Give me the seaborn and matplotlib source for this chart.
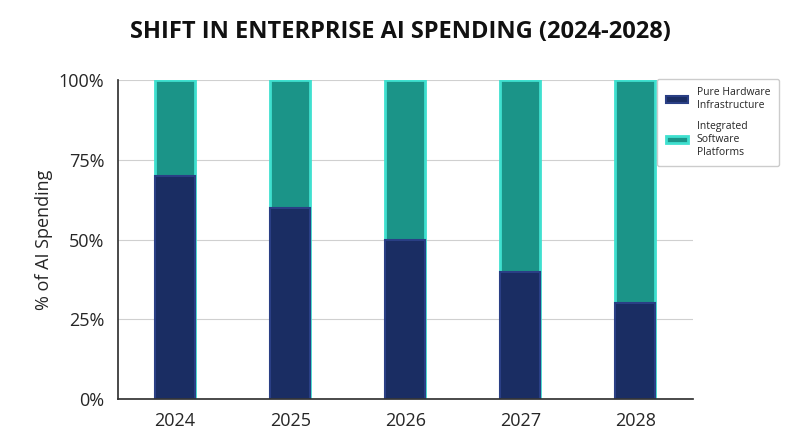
import matplotlib
matplotlib.use("Agg")
import matplotlib.pyplot as plt
import seaborn as sns
import pandas as pd

years = ["2024", "2025", "2026", "2027", "2028"]
hardware = [70, 60, 50, 40, 30]
software = [30, 40, 50, 60, 70]

sns.set_theme(style="white")
plt.rcParams['font.family'] = ['Open Sans', 'DejaVu Sans']

df = pd.DataFrame({"year": years, "hardware": hardware,
                   "total": [h + s for h, s in zip(hardware, software)]})

fig = plt.figure(figsize=(8, 4.47), dpi=100)
ax = fig.add_axes([0.147, 0.107, 0.719, 0.714])
ax.yaxis.grid(True, color="#d0d0d0", lw=0.8)
ax.set_axisbelow(True)

sns.barplot(data=df, x="year", y="total", color="#1b9488", width=0.35,
            edgecolor="#3fe0cf", linewidth=2, saturation=1, ax=ax,
            label="Integrated\nSoftware\nPlatforms")
sns.barplot(data=df, x="year", y="hardware", color="#1a2d63", width=0.35,
            edgecolor="#2a3f85", linewidth=1.5, saturation=1, ax=ax,
            label="Pure Hardware\nInfrastructure")

ax.set_ylim(0, 100)
ax.set_yticks([0, 25, 50, 75, 100])
ax.set_yticklabels(["0%", "25%", "50%", "75%", "100%"], fontsize=13)
ax.tick_params(axis="x", labelsize=13)
ax.set_xlabel("")
ax.set_ylabel("% of AI Spending", fontsize=13)
for s in ["top", "right"]:
    ax.spines[s].set_visible(False)
ax.spines["left"].set_color("#333333")
ax.spines["bottom"].set_color("#333333")

h, l = ax.get_legend_handles_labels()
if ax.get_legend() is not None:
    ax.get_legend().remove()
leg = fig.legend(h[::-1], l[::-1], loc="upper left",
                 bbox_to_anchor=(0.815, 0.835), bbox_transform=fig.transFigure,
                 fontsize=7.5, frameon=True, edgecolor="#cccccc", labelspacing=1.0,
                 handlelength=2.2, borderpad=0.8, fancybox=True)
leg.get_frame().set_facecolor("white")
leg.get_frame().set_alpha(1)

fig.text(0.5, 0.915, "SHIFT IN ENTERPRISE AI SPENDING (2024-2028)",
         ha="center", fontsize=17, fontweight="bold", color="#111111")

fig.savefig("out.png", dpi=100)
